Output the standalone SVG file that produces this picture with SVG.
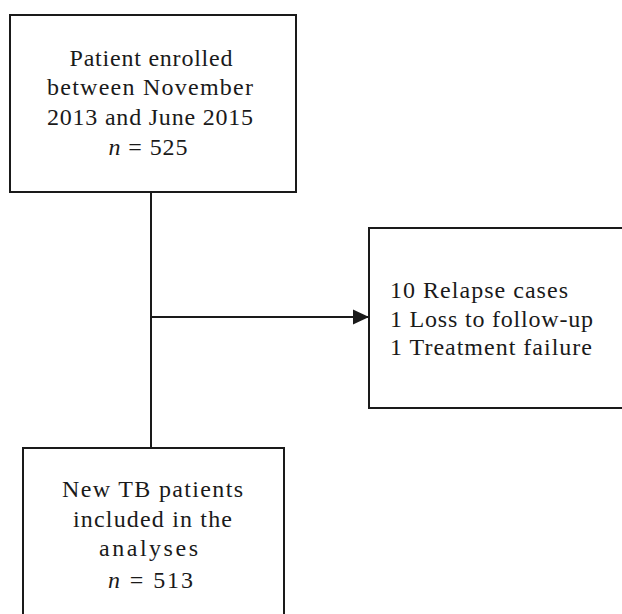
<svg xmlns="http://www.w3.org/2000/svg" width="622" height="614" viewBox="0 0 622 614">
<defs>
<style>
.box{fill:#fff;stroke:#1a1a1a;stroke-width:2}
.t{font-family:"Liberation Serif","Times New Roman",serif;font-size:24px;fill:#1a1a1a}
.c{text-anchor:middle}
.ln{stroke:#1a1a1a;stroke-width:2;fill:none}
</style>
<marker id="ah" markerUnits="userSpaceOnUse" markerWidth="16" markerHeight="16" refX="16" refY="8" orient="auto">
<path d="M0,0.5 L16,8 L0,15.5 Z" fill="#1a1a1a"/>
</marker>
</defs>
<rect width="622" height="614" fill="#fff"/>
<g id="connectors">
<line class="ln" x1="151" y1="192" x2="151" y2="448"/>
<line class="ln" x1="151" y1="317" x2="369" y2="317" marker-end="url(#ah)"/>
</g>
<g id="enrolled">
<rect class="box" x="10" y="15" width="286" height="177"/>
<text class="t c" x="151" y="66" textLength="163" lengthAdjust="spacing">Patient enrolled</text>
<text class="t c" x="150" y="95" textLength="206" lengthAdjust="spacing">between November</text>
<text class="t c" x="150" y="125" textLength="206" lengthAdjust="spacing">2013 and June 2015</text>
<text class="t c" x="148" y="155" textLength="79" lengthAdjust="spacing"><tspan font-style="italic">n</tspan> = 525</text>
</g>
<g id="excluded">
<rect class="box" x="369" y="228" width="262" height="180"/>
<text class="t" x="390" y="298" textLength="178" lengthAdjust="spacing">10 Relapse cases</text>
<text class="t" x="390" y="327" textLength="203" lengthAdjust="spacing">1 Loss to follow-up</text>
<text class="t" x="390" y="355" textLength="202" lengthAdjust="spacing">1 Treatment failure</text>
</g>
<g id="included">
<rect class="box" x="23" y="448" width="261" height="180"/>
<text class="t c" x="152.5" y="497" textLength="181" lengthAdjust="spacing">New TB patients</text>
<text class="t c" x="152.5" y="527" textLength="159" lengthAdjust="spacing">included in the</text>
<text class="t c" x="148.5" y="556" textLength="99" lengthAdjust="spacing">analyses</text>
<text class="t c" x="150.5" y="588" textLength="85" lengthAdjust="spacing"><tspan font-style="italic">n</tspan> = 513</text>
</g>
</svg>
